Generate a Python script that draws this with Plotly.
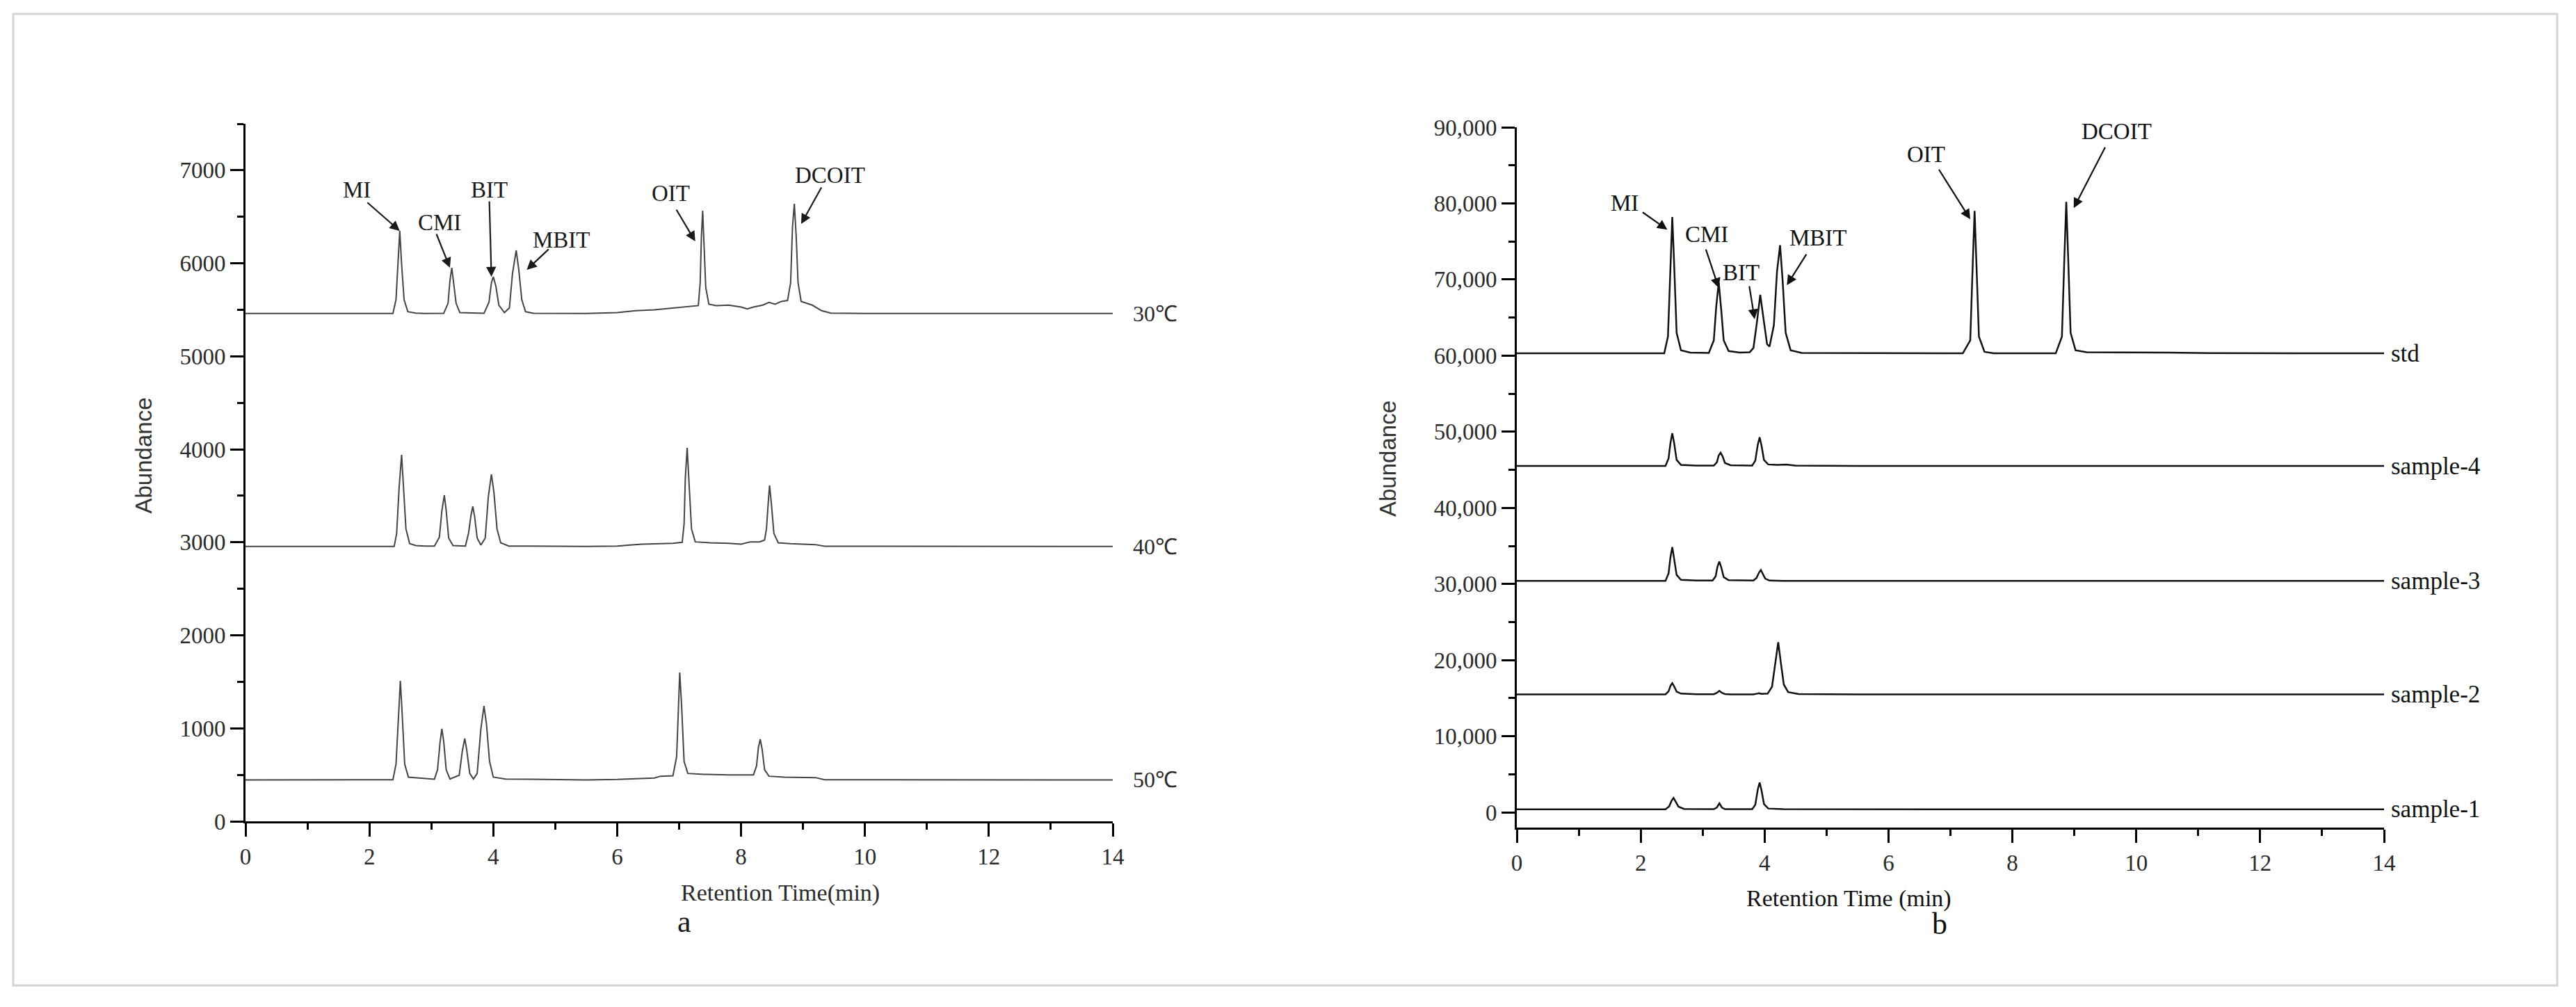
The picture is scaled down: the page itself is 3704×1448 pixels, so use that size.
import plotly.graph_objects as go

# ---------------- data ----------------
# Panel a : chromatograms at three column temperatures
a_names = ["30℃", "40℃", "50℃"]
a_baselines = [5460, 2955, 445]

t_30 = [0, 1.5, 2.38, 2.43, 2.46, 2.49, 2.52, 2.56, 2.62, 2.75, 2.9, 3.2, 3.27, 3.30, 3.33, 3.36, 3.40, 3.46,
        3.85, 3.93, 3.97, 4.00, 4.04, 4.09, 4.18, 4.26, 4.31, 4.37, 4.41, 4.46, 4.52, 4.65, 5.5, 6.0, 6.3, 6.6,
        6.9, 7.2, 7.31, 7.34, 7.36, 7.38, 7.40, 7.43, 7.48, 7.6, 7.8, 8.0, 8.1, 8.2, 8.35, 8.45, 8.55, 8.65, 8.75,
        8.80, 8.83, 8.86, 8.89, 8.92, 8.97, 9.05, 9.15, 9.3, 9.45, 10, 12, 14]
v_30 = [5460, 5458, 5460, 5610, 6040, 6349, 5990, 5610, 5480, 5465, 5460, 5462, 5570, 5810, 5952, 5800, 5570, 5470,
        5462, 5580, 5790, 5855, 5760, 5550, 5470, 5520, 5890, 6139, 5940, 5610, 5480, 5462, 5460, 5470, 5490, 5500,
        5520, 5535, 5545, 5790, 6290, 6565, 6240, 5740, 5560, 5545, 5550, 5530, 5510, 5530, 5550, 5580, 5560, 5590, 5600,
        5790, 6390, 6640, 6290, 5790, 5590, 5570, 5550, 5490, 5465, 5460, 5460, 5460]

t_40 = [0, 2.40, 2.44, 2.48, 2.52, 2.55, 2.59, 2.65, 2.75, 2.9, 3.05, 3.13, 3.17, 3.21, 3.24, 3.28, 3.35,
        3.55, 3.60, 3.64, 3.67, 3.70, 3.74, 3.80, 3.87, 3.92, 3.97, 4.01, 4.06, 4.12, 4.25, 5.5, 6.0, 6.2, 6.4,
        6.7, 6.9, 7.05, 7.08, 7.10, 7.13, 7.16, 7.20, 7.26, 7.5, 7.8, 8.0, 8.15, 8.3, 8.38, 8.41, 8.44, 8.46,
        8.49, 8.53, 8.6, 8.8, 9.2, 9.35, 14]
v_40 = [2955, 2955, 3095, 3590, 3941, 3590, 3145, 2985, 2965, 2960, 2960, 3055, 3340, 3507, 3340, 3045, 2965,
        2960, 3095, 3290, 3387, 3270, 3045, 2970, 3045, 3490, 3731, 3540, 3145, 2995, 2960, 2955, 2960, 2970, 2980,
        2985, 2990, 3000, 3195, 3690, 4016, 3640, 3145, 3005, 2995, 2990, 2980, 3005, 3005, 3025, 3145, 3440, 3612,
        3410, 3095, 2995, 2985, 2975, 2957, 2955]

t_50 = [0, 2.38, 2.43, 2.47, 2.50, 2.53, 2.57, 2.63, 2.8, 3.05, 3.10, 3.14, 3.17, 3.20, 3.24, 3.30, 3.45, 3.50,
        3.54, 3.57, 3.62, 3.68, 3.74, 3.80, 3.85, 3.89, 3.94, 4.0, 4.2, 5.5, 6.0, 6.6, 6.7, 6.9, 6.96, 6.99, 7.01,
        7.04, 7.08, 7.14, 7.4, 7.8, 8.2, 8.25, 8.28, 8.31, 8.34, 8.38, 8.45, 8.7, 9.2, 9.35, 14]
v_50 = [445, 447, 615, 1195, 1510, 1145, 615, 475, 465, 453, 555, 845, 995, 855, 555, 455, 495, 755,
        890, 775, 515, 455, 515, 995, 1241, 1045, 645, 475, 455, 445, 450, 465, 485, 490, 695, 1345, 1600,
        1245, 645, 515, 505, 500, 500, 595, 795, 882, 775, 555, 485, 475, 470, 447, 445]

# Panel b : standard and four samples
b_names = ["std", "sample-4", "sample-3", "sample-2", "sample-1"]
b_baselines = [60300, 45500, 30400, 15500, 400]

t_std = [0, 2.38, 2.44, 2.48, 2.51, 2.54, 2.58, 2.65, 2.8, 3.1, 3.18, 3.22, 3.26, 3.30, 3.34, 3.42, 3.6,
         3.76, 3.82, 3.87, 3.93, 3.98, 4.04, 4.08, 4.15, 4.20, 4.25, 4.29, 4.34, 4.42, 4.6, 7.2, 7.32, 7.36,
         7.39, 7.42, 7.46, 7.55, 7.7, 8.7, 8.80, 8.84, 8.87, 8.90, 8.94, 9.02, 9.2, 10.5, 11.2, 14]
v_std = [60300, 60300, 62500, 72000, 78200, 72000, 63000, 60700, 60400, 60350, 62000, 66500, 69600, 66000, 62000, 60600, 60400,
         60450, 61000, 64000, 68000, 65000, 61500, 61200, 64000, 71000, 74500, 70000, 63000, 60700, 60350, 60300, 62000, 72000,
         79000, 72000, 62500, 60500, 60300, 60300, 62500, 73000, 80200, 73000, 63000, 60700, 60450, 60400, 60320, 60300]

t_s4 = [0, 2.40, 2.45, 2.48, 2.51, 2.54, 2.58, 2.65, 2.9, 3.18, 3.23, 3.26, 3.29, 3.32, 3.36, 3.45, 3.8,
        3.85, 3.89, 3.92, 3.95, 3.99, 4.06, 4.2, 4.35, 4.5, 5.5, 14]
v_s4 = [45500, 45500, 46500, 48500, 49800, 48500, 46300, 45650, 45550, 45550, 46000, 46900, 47260, 46800, 45900, 45600, 45550,
        46200, 48300, 49270, 48200, 46300, 45700, 45650, 45700, 45550, 45500, 45500]

t_s3 = [0, 2.40, 2.45, 2.48, 2.51, 2.54, 2.58, 2.65, 2.9, 3.16, 3.21, 3.24, 3.27, 3.30, 3.34, 3.42, 3.82,
        3.87, 3.91, 3.94, 3.97, 4.01, 4.08, 4.3, 5.5, 14]
v_s3 = [30400, 30400, 31400, 33500, 34850, 33400, 31200, 30550, 30450, 30450, 31000, 32300, 32940, 32200, 30900, 30500, 30450,
        30800, 31500, 31840, 31400, 30700, 30450, 30420, 30400, 30400]

t_s2 = [0, 2.40, 2.45, 2.48, 2.51, 2.54, 2.58, 2.65, 2.9, 3.18, 3.23, 3.27, 3.31, 3.36, 3.45, 3.82, 3.88,
        3.91, 3.95, 4.05, 4.12, 4.17, 4.22, 4.26, 4.31, 4.38, 4.55, 5.5, 14]
v_s2 = [15500, 15500, 15900, 16600, 16970, 16550, 15850, 15600, 15520, 15520, 15700, 15970, 15700, 15550, 15500, 15500, 15600,
        15650, 15560, 15600, 16500, 19500, 22350, 19800, 16800, 15800, 15550, 15500, 15500]

t_s1 = [0, 2.40, 2.46, 2.50, 2.53, 2.56, 2.61, 2.7, 3.18, 3.23, 3.27, 3.31, 3.36, 3.8, 3.85, 3.89, 3.92,
        3.95, 3.99, 4.06, 4.3, 14]
v_s1 = [400, 400, 800, 1550, 1900, 1500, 750, 450, 420, 650, 1190, 650, 420, 420, 1000, 3000, 3920,
        2900, 1100, 500, 410, 400]

# peak labels
peaks = ["MI", "CMI", "BIT", "MBIT", "OIT", "DCOIT"]
# panel a labels (text position, arrow tip, arrow tail offset in px)
a_text_t = [1.80, 3.13, 3.94, 5.10, 6.86, 9.44]
a_text_v = [6790, 6438, 6790, 6251, 6752, 6947]
a_tip_t = [2.49, 3.30, 3.97, 4.54, 7.26, 8.97]
a_tip_v = [6349, 5952, 5855, 5930, 6236, 6423]
a_ax = [-48, -20, -3, 33, -28, 30]
a_ay = [-42, -50, -110, -31, -47, -54]
# panel b labels
b_text_t = [1.74, 3.07, 3.62, 4.87, 6.61, 9.68]
b_text_v = [80018, 75912, 70894, 75456, 86405, 89416]
b_tip_t = [2.43, 3.26, 3.84, 4.36, 7.32, 8.99]
b_tip_v = [76550, 68887, 64781, 69252, 77920, 79380]
b_ax = [-37, -19, -8, 29, -46, 46]
b_ay = [-26, -57, -49, -46, -73, -89]

x_ticks = [0, 2, 4, 6, 8, 10, 12, 14]
a_yticks = [0, 1000, 2000, 3000, 4000, 5000, 6000, 7000]
b_yticks = [0, 10000, 20000, 30000, 40000, 50000, 60000, 70000, 80000, 90000]

# ---------------- figure ----------------
W, H = 3704, 1448
SERIF = "Liberation Serif, Times New Roman, serif"
SANS = "Liberation Sans, Arial, sans-serif"

fig = go.Figure()

a_series = [(t_30, v_30), (t_40, v_40), (t_50, v_50)]
for name, (tt, vv) in zip(a_names, a_series):
    fig.add_trace(go.Scatter(x=tt, y=vv, mode="lines", name=name, xaxis="x", yaxis="y",
                             line=dict(color="#444444", width=2), showlegend=False))

b_series = [(t_std, v_std), (t_s4, v_s4), (t_s3, v_s3), (t_s2, v_s2), (t_s1, v_s1)]
for name, (tt, vv) in zip(b_names, b_series):
    fig.add_trace(go.Scatter(x=tt, y=vv, mode="lines", name=name, xaxis="x2", yaxis="y2",
                             line=dict(color="#111111", width=2.5), showlegend=False))

def px_dom(a, b, total):
    return [a / total, b / total]

ax_common = dict(showline=True, linecolor="black", linewidth=3, ticks="outside", ticklen=19,
                 tickwidth=3, tickcolor="black", showgrid=False, zeroline=False, automargin=False,
                 tickfont=dict(family=SERIF, size=33, color="#2a2a2a"))

fig.update_layout(
    width=W, height=H, margin=dict(l=0, r=0, t=0, b=0, autoexpand=False),
    paper_bgcolor="white", plot_bgcolor="white",
    xaxis=dict(domain=px_dom(353, 1600, W), range=[0, 14], tickvals=x_ticks, anchor="y",
               minor=dict(dtick=1, ticklen=9, tickwidth=3, tickcolor="black", ticks="outside"), **ax_common),
    yaxis=dict(domain=[1 - 1181 / H, 1 - 178 / H], range=[0, 7500], tickvals=a_yticks, anchor="x",
               minor=dict(dtick=500, ticklen=9, tickwidth=3, tickcolor="black", ticks="outside"), **ax_common),
    xaxis2=dict(domain=px_dom(2181, 3428, W), range=[0, 14], tickvals=x_ticks, anchor="y2",
                minor=dict(dtick=1, ticklen=9, tickwidth=3, tickcolor="black", ticks="outside"), **ax_common),
    yaxis2=dict(domain=[1 - 1190 / H, 1 - 183 / H], range=[-2000, 90000], tickvals=b_yticks,
                tickformat=",d", anchor="x2",
                minor=dict(tickvals=[5000, 15000, 25000, 35000, 45000, 55000, 65000, 75000, 85000],
                           ticklen=9, tickwidth=3, tickcolor="black", ticks="outside"), **ax_common),
)

ann = []
# series labels on the right
for name, base in zip(a_names, a_baselines):
    ann.append(dict(x=14, y=base, xref="x", yref="y", text=name, showarrow=False, xanchor="left",
                    xshift=27, font=dict(family=SERIF, size=32, color="#2a2a2a")))
for name, base in zip(b_names, b_baselines):
    ann.append(dict(x=14, y=base, xref="x2", yref="y2", text=name, showarrow=False, xanchor="left",
                    xshift=8, font=dict(family=SERIF, size=35, color="#111111")))

# peak labels + arrows
for lab, tx, ty, px_, py_, axo, ayo in zip(peaks, a_text_t, a_text_v, a_tip_t, a_tip_v, a_ax, a_ay):
    ann.append(dict(x=tx, y=ty, xref="x", yref="y", text=lab, showarrow=False,
                    font=dict(family=SERIF, size=33, color="#1a1a1a")))
    ann.append(dict(x=px_, y=py_, xref="x", yref="y", text="", showarrow=True, ax=axo, ay=ayo,
                    arrowhead=2, arrowsize=1.3, arrowwidth=2.2, arrowcolor="#1a1a1a", standoff=0))
for lab, tx, ty, px_, py_, axo, ayo in zip(peaks, b_text_t, b_text_v, b_tip_t, b_tip_v, b_ax, b_ay):
    ann.append(dict(x=tx, y=ty, xref="x2", yref="y2", text=lab, showarrow=False,
                    font=dict(family=SERIF, size=33, color="#111111")))
    ann.append(dict(x=px_, y=py_, xref="x2", yref="y2", text="", showarrow=True, ax=axo, ay=ayo,
                    arrowhead=2, arrowsize=1.3, arrowwidth=2.2, arrowcolor="#111111", standoff=0))

# axis titles and panel letters
ann += [
    dict(x=185 / W, y=1 - 655 / H, xref="paper", yref="paper", text="Abundance", textangle=-90,
         showarrow=False, font=dict(family=SANS, size=33, color="#333333")),
    dict(x=1995 / W, y=1 - 660 / H, xref="paper", yref="paper", text="Abundance", textangle=-90,
         showarrow=False, font=dict(family=SANS, size=33, color="#333333")),
    dict(x=977 / W, y=1 - 1305 / H, xref="paper", yref="paper", text="Retention Time(min)",
         showarrow=False, font=dict(family=SERIF, size=34, color="#2a2a2a")),
    dict(x=2808 / W, y=1 - 1313 / H, xref="paper", yref="paper", text="Retention Time (min)",
         showarrow=False, font=dict(family=SERIF, size=34, color="#111111")),
    dict(x=972 / W, y=1 - 1352 / H, xref="paper", yref="paper", text="a",
         showarrow=False, font=dict(family=SERIF, size=44, color="#1a1a1a")),
    dict(x=2802 / W, y=1 - 1355 / H, xref="paper", yref="paper", text="b",
         showarrow=False, font=dict(family=SERIF, size=44, color="#111111")),
]
fig.update_layout(annotations=ann)

# light frame around the whole figure
fig.add_shape(type="rect", xref="paper", yref="paper", x0=19 / W, x1=3677 / W, y0=1 - 1417 / H, y1=1 - 20 / H,
              line=dict(color="#d6d6d6", width=3), fillcolor="rgba(0,0,0,0)", layer="below")

fig.write_html("out.html", config={"displayModeBar": False},
               post_script="document.body.style.margin='0';document.body.style.overflow='hidden';")
